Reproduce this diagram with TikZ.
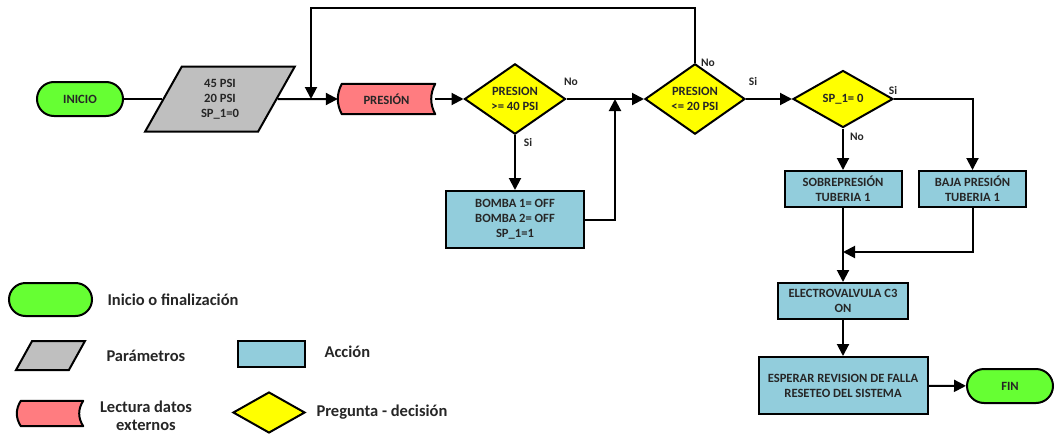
\documentclass[tikz,border=0pt]{standalone}
\usepackage{fontspec}
\setmainfont{Carlito}
\usetikzlibrary{arrows.meta,shapes.geometric,shapes.misc,calc,backgrounds}
\definecolor{termgreen}{HTML}{66FF33}
\definecolor{paramgray}{HTML}{BFBFBF}
\definecolor{readred}{HTML}{FF7C80}
\definecolor{actblue}{HTML}{92CDDC}
\definecolor{decyellow}{HTML}{FFFF00}
\newcommand\drawstoreddata[2]{%
  \draw[line width=2pt,fill=#2,line join=round]
    ($(#1.north west)+(4,0)$) -- (#1.north east)
    .. controls ($(#1.north east)!0.333!(#1.south east)+(-5.33,0)$) and ($(#1.north east)!0.667!(#1.south east)+(-5.33,0)$) .. (#1.south east)
    -- ($(#1.south west)+(4,0)$)
    .. controls ($(#1.north west)!0.667!(#1.south west)+(-1.33,0)$) and ($(#1.north west)!0.333!(#1.south west)+(-1.33,0)$) .. cycle;}
\tikzset{
  txt/.style={font=\bfseries\fontsize{12.6}{15}\selectfont, align=center, text=black!85},
  base/.style={txt, draw=black, line width=2pt, inner sep=0pt},
  terminal/.style={base, rounded rectangle, fill=termgreen},
  param/.style={base, trapezium, fill=paramgray, trapezium stretches=true},
  action/.style={base, rectangle, fill=actblue},
  decision/.style={base, diamond, fill=decyellow},
  readnode/.style={txt, rectangle, inner sep=0pt},
  conn/.style={line width=2pt},
  arr/.style={conn, -{Triangle[length=12pt,width=12pt]}},
  small/.style={font=\bfseries\fontsize{11.5}{13}\selectfont, text=black!85},
  legtxt/.style={font=\bfseries\fontsize{16.5}{18}\selectfont, text=black!85, align=center},
}
\begin{document}
\begin{tikzpicture}[x=1pt,y=-1pt]
\useasboundingbox (0,0) rectangle (1055,434);
% main flow
\node[terminal, minimum width=86, minimum height=34] (ini) at (80,99) {INICIO};
\node[param, trapezium left angle=65.5, trapezium right angle=114.5, minimum width=150, minimum height=65] (par) at (220,99) {45 PSI\\20 PSI\\SP\_1=0};
\node[readnode, minimum width=97, minimum height=30] (pres) at (386.5,99) {PRESIÓN};
\begin{scope}[on background layer]
  \drawstoreddata{pres}{readred}
\end{scope}
\node[decision, minimum width=101, minimum height=57] (d1) at (515,99) {PRESION\\>= 40 PSI};
\node[action, minimum width=138, minimum height=57] (bomba) at (515,219.5) {BOMBA 1= OFF\\BOMBA 2= OFF\\SP\_1=1};
\node[decision, minimum width=100, minimum height=58] (d2) at (695,99) {PRESION\\<= 20 PSI};
\node[decision, minimum width=100, minimum height=57] (d3) at (843,99) {SP\_1= 0};
\node[action, minimum width=117, minimum height=36] (sobre) at (843,189) {SOBREPRESIÓN\\TUBERIA 1};
\node[action, minimum width=107, minimum height=36] (baja) at (972.5,189) {BAJA PRESIÓN\\TUBERIA 1};
\node[action, minimum width=130, minimum height=36] (elec) at (843,301) {ELECTROVALVULA C3\\ON};
\node[action, minimum width=169, minimum height=57] (esp) at (843,385.5) {ESPERAR REVISION DE FALLA\\RESETEO DEL SISTEMA};
\node[terminal, minimum width=86, minimum height=34] (fin) at (1010,386) {FIN};
% junction coordinates
\coordinate (m0) at (311,99);
\coordinate (top) at (311,8);
\coordinate (m1) at (615,99);
\coordinate (m2) at (843,252);
% connectors
\draw[conn] (ini) -- (par);
\draw[arr] (par) -- (pres);
\draw[arr] (pres) -- (d1);
\draw[arr] (d1) -- (d2);
\draw[arr] (d1) -- (bomba);
\draw[arr] (bomba.east) -| (m1);
\draw[arr] (d2.north) |- (top) -- (m0);
\draw[arr] (d2) -- (d3);
\draw[arr] (d3.east) -| (baja.north);
\draw[arr] (d3) -- (sobre);
\draw[arr] (sobre) -- (elec);
\draw[arr] (baja.south) |- (m2);
\draw[arr] (elec) -- (esp);
\draw[arr] (esp) -- (fin);
% branch labels
\node[small] (l1) at (571,82) {No};
\node[small] (l2) at (528,143) {Si};
\node[small] (l3) at (708,63) {No};
\node[small] (l4) at (753,82) {Si};
\node[small] (l5) at (893,91) {Si};
\node[small] (l6) at (857,137) {No};
% legend
\node[terminal, minimum width=83, minimum height=33] (lg1) at (50.5,299.5) {};
\node[legtxt, anchor=west] (lt1) at (104,299.5) {Inicio o finalización};
\node[param, trapezium left angle=67.5, trapezium right angle=112.5, minimum width=69, minimum height=29] (lg2) at (50.5,355.5) {\phantom{x}};
\node[legtxt, anchor=west] (lt2) at (103,356) {Parámetros};
\node[readnode, minimum width=66, minimum height=25] (lg3) at (50,413.5) {};
\begin{scope}[on background layer]
  \drawstoreddata{lg3}{readred}
\end{scope}
\node[legtxt] (lt3) at (146,416) {Lectura datos\\externos};
\node[action, minimum width=67, minimum height=26] (lg4) at (271.5,354) {};
\node[legtxt, anchor=west] (lt4) at (321,352) {Acción};
\node[decision, minimum width=72, minimum height=41] (lg5) at (269,412.5) {};
\node[legtxt, anchor=west] (lt5) at (313,412) {Pregunta - decisión};
\end{tikzpicture}
\end{document}
